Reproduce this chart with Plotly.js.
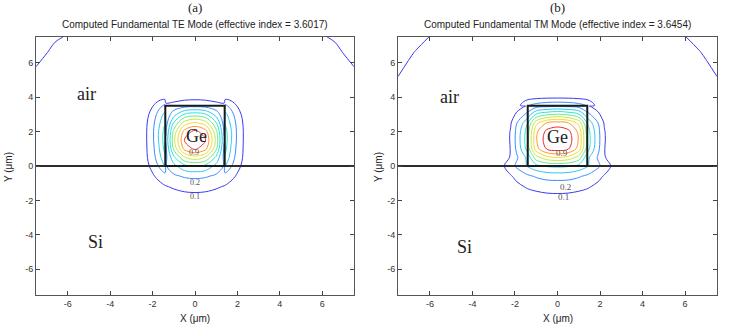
<!DOCTYPE html>
<html lang="en">
<head>
  <meta charset="UTF-8">
  <title>Computed Fundamental TE / TM Modes</title>
  <script src="https://cdn.plot.ly/plotly-3.0.1.min.js"></script>
  <style>
    body { margin: 0; background: #ffffff; }
    #chart { width: 747px; height: 334px; }
  </style>
</head>
<body>
  <div id="chart"></div>
  <script>
    // axis ticks (um)
    const tickVals = [-6, -4, -2, 0, 2, 4, 6];
    const tickLabels = ['-6', '-4', '-2', '0', '2', '4', '6'];
    const axisRange = [-7.5, 7.5];

    // Ge core: left edge, right edge, top (um); Si interface at y = 0
    const coreEdges = [-1.4, 1.4];
    const coreTop = 3.5;
    const interfaceY = 0;

    // TE mode field samples (normalised |E|)
    const teX = [-7.5, -6.6, -5.5, -2.4, -2, -1.7, -1.42, -1.38, -1, -0.5, 0, 0.5, 1, 1.38, 1.42, 1.7, 2, 2.4, 5.5, 6.6, 7.5];
    const teY = [-7.5, -3, -2, -1.2, -0.6, 0, 0.5, 1, 1.5, 2, 2.5, 3, 3.5, 4, 5, 6.6, 7.5];
    const teZ = [
      [0, 0, 0, 0, 0, 0, 0, 0, 0, 0, 0, 0, 0, 0, 0, 0, 0, 0, 0, 0, 0],
      [0, 0, 0, 0.005, 0.01, 0.012, 0.015, 0.015, 0.018, 0.02, 0.02, 0.02, 0.018, 0.015, 0.015, 0.012, 0.01, 0.005, 0, 0, 0],
      [0, 0, 0, 0.015, 0.025, 0.035, 0.045, 0.045, 0.05, 0.058, 0.06, 0.058, 0.05, 0.045, 0.045, 0.035, 0.025, 0.015, 0, 0, 0],
      [0, 0, 0, 0.03, 0.055, 0.075, 0.093, 0.095, 0.11, 0.125, 0.13, 0.125, 0.11, 0.095, 0.093, 0.075, 0.055, 0.03, 0, 0, 0],
      [0, 0, 0, 0.05, 0.09, 0.12, 0.15, 0.15, 0.18, 0.21, 0.22, 0.21, 0.18, 0.15, 0.15, 0.12, 0.09, 0.05, 0, 0, 0],
      [0, 0, 0, 0.07, 0.12, 0.21, 0.3, 0.19, 0.27, 0.37, 0.4, 0.37, 0.27, 0.19, 0.3, 0.21, 0.12, 0.07, 0, 0, 0],
      [0, 0, 0, 0.065, 0.155, 0.26, 0.38, 0.17, 0.38, 0.59, 0.66, 0.59, 0.38, 0.17, 0.38, 0.26, 0.155, 0.065, 0, 0, 0],
      [0, 0, 0, 0.065, 0.17, 0.29, 0.43, 0.18, 0.52, 0.83, 0.92, 0.83, 0.52, 0.18, 0.43, 0.29, 0.17, 0.065, 0, 0, 0],
      [0, 0, 0, 0.065, 0.18, 0.31, 0.45, 0.21, 0.57, 0.905, 1, 0.905, 0.57, 0.21, 0.45, 0.31, 0.18, 0.065, 0, 0, 0],
      [0, 0, 0, 0.065, 0.18, 0.31, 0.44, 0.19, 0.53, 0.84, 0.93, 0.84, 0.53, 0.19, 0.44, 0.31, 0.18, 0.065, 0, 0, 0],
      [0, 0, 0, 0.06, 0.17, 0.28, 0.39, 0.15, 0.41, 0.65, 0.72, 0.65, 0.41, 0.15, 0.39, 0.28, 0.17, 0.06, 0, 0, 0],
      [0.01, 0, 0, 0.05, 0.14, 0.24, 0.33, 0.12, 0.26, 0.41, 0.45, 0.41, 0.26, 0.12, 0.33, 0.24, 0.14, 0.05, 0, 0, 0.01],
      [0.02, 0.01, 0, 0.04, 0.095, 0.17, 0.22, 0.12, 0.13, 0.16, 0.17, 0.16, 0.13, 0.12, 0.22, 0.17, 0.095, 0.04, 0, 0.01, 0.02],
      [0.04, 0.02, 0.005, 0.012, 0.03, 0.05, 0.057, 0.057, 0.062, 0.068, 0.07, 0.068, 0.062, 0.057, 0.057, 0.05, 0.03, 0.012, 0.005, 0.02, 0.04],
      [0.072, 0.04, 0.01, 0.005, 0.01, 0.012, 0.015, 0.015, 0.018, 0.02, 0.02, 0.02, 0.018, 0.015, 0.015, 0.012, 0.01, 0.005, 0.01, 0.04, 0.072],
      [0.13, 0.08, 0.03, 0.01, 0.01, 0.01, 0.01, 0.01, 0.01, 0.01, 0.01, 0.01, 0.01, 0.01, 0.01, 0.01, 0.01, 0.01, 0.03, 0.08, 0.13],
      [0.18, 0.11, 0.08, 0.02, 0.02, 0.02, 0.02, 0.02, 0.02, 0.02, 0.02, 0.02, 0.02, 0.02, 0.02, 0.02, 0.02, 0.02, 0.08, 0.11, 0.18]
    ];

    // TM mode field samples
    const tmX = [-7.5, -6.6, -5.5, -2.6, -2.2, -1.9, -1.6, -1.4, -1, -0.5, 0, 0.5, 1, 1.4, 1.6, 1.9, 2.2, 2.6, 5.5, 6.6, 7.5];
    const tmY = [-7.5, -3, -2, -1.2, -0.6, 0, 0.5, 1, 1.5, 2, 2.5, 3, 3.48, 3.52, 4, 5, 6.6, 7.5];
    const tmZ = [
      [0, 0, 0, 0, 0, 0, 0, 0, 0, 0, 0, 0, 0, 0, 0, 0, 0, 0, 0, 0, 0],
      [0, 0, 0, 0.005, 0.01, 0.015, 0.02, 0.02, 0.022, 0.025, 0.025, 0.025, 0.022, 0.02, 0.02, 0.015, 0.01, 0.005, 0, 0, 0],
      [0, 0, 0, 0.01, 0.02, 0.03, 0.04, 0.045, 0.05, 0.058, 0.06, 0.058, 0.05, 0.045, 0.04, 0.03, 0.02, 0.01, 0, 0, 0],
      [0, 0, 0, 0.02, 0.05, 0.075, 0.098, 0.11, 0.125, 0.137, 0.14, 0.137, 0.125, 0.11, 0.098, 0.075, 0.05, 0.02, 0, 0, 0],
      [0, 0, 0, 0.04, 0.09, 0.13, 0.16, 0.18, 0.21, 0.235, 0.24, 0.235, 0.21, 0.18, 0.16, 0.13, 0.09, 0.04, 0, 0, 0],
      [0, 0, 0, 0.08, 0.16, 0.22, 0.27, 0.31, 0.37, 0.41, 0.42, 0.41, 0.37, 0.31, 0.27, 0.22, 0.16, 0.08, 0, 0, 0],
      [0, 0, 0, 0.04, 0.11, 0.19, 0.27, 0.33, 0.56, 0.67, 0.7, 0.67, 0.56, 0.33, 0.27, 0.19, 0.11, 0.04, 0, 0, 0],
      [0, 0, 0, 0.028, 0.105, 0.228, 0.35, 0.45, 0.76, 0.91, 0.95, 0.91, 0.76, 0.45, 0.35, 0.228, 0.105, 0.028, 0, 0, 0],
      [0, 0, 0, 0.03, 0.11, 0.24, 0.37, 0.47, 0.79, 0.96, 1, 0.96, 0.79, 0.47, 0.37, 0.24, 0.11, 0.03, 0, 0, 0],
      [0, 0, 0, 0.029, 0.107, 0.233, 0.36, 0.456, 0.776, 0.93, 0.97, 0.93, 0.776, 0.456, 0.36, 0.233, 0.107, 0.029, 0, 0, 0],
      [0, 0, 0, 0.025, 0.092, 0.202, 0.31, 0.395, 0.672, 0.806, 0.84, 0.806, 0.672, 0.395, 0.31, 0.202, 0.092, 0.025, 0, 0, 0],
      [0.01, 0, 0, 0.015, 0.055, 0.12, 0.185, 0.235, 0.41, 0.48, 0.51, 0.48, 0.41, 0.235, 0.185, 0.12, 0.055, 0.015, 0, 0, 0.01],
      [0.02, 0.01, 0, 0.008, 0.03, 0.06, 0.09, 0.11, 0.16, 0.18, 0.19, 0.18, 0.16, 0.11, 0.09, 0.06, 0.03, 0.008, 0, 0.01, 0.02],
      [0.02, 0.01, 0, 0.01, 0.03, 0.06, 0.14, 0.19, 0.24, 0.27, 0.28, 0.27, 0.24, 0.19, 0.14, 0.06, 0.03, 0.01, 0, 0.01, 0.02],
      [0.04, 0.02, 0.005, 0.005, 0.015, 0.03, 0.05, 0.06, 0.07, 0.078, 0.08, 0.078, 0.07, 0.06, 0.05, 0.03, 0.015, 0.005, 0.005, 0.02, 0.04],
      [0.0914, 0.05, 0.02, 0.005, 0.008, 0.01, 0.015, 0.018, 0.02, 0.02, 0.02, 0.02, 0.02, 0.018, 0.015, 0.01, 0.008, 0.005, 0.02, 0.05, 0.0914],
      [0.16, 0.088, 0.04, 0.01, 0.01, 0.01, 0.01, 0.01, 0.01, 0.01, 0.01, 0.01, 0.01, 0.01, 0.01, 0.01, 0.01, 0.01, 0.04, 0.088, 0.16],
      [0.19, 0.14, 0.06, 0.02, 0.02, 0.02, 0.02, 0.02, 0.02, 0.02, 0.02, 0.02, 0.02, 0.02, 0.02, 0.02, 0.02, 0.02, 0.06, 0.14, 0.19]
    ];

    const panelTags = ['(a)', '(b)'];
    const panelTitles = [
      'Computed Fundamental TE Mode (effective index = 3.6017)',
      'Computed Fundamental TM Mode (effective index = 3.6454)'
    ];
    const regionNames = ['air', 'Si', 'Ge'];
    const teRegionX = [-5.1, -4.7, 0.05];
    const teRegionY = [4.2, -4.4, 1.75];
    const tmRegionX = [-5.1, -4.35, 0.0];
    const tmRegionY = [4.0, -4.7, 1.7];
    const contourLabels = ['0.9', '0.2', '0.1'];
    const teLabelX = [-0.03, 0, 0];
    const teLabelY = [0.78, -0.93, -1.78];
    const tmLabelX = [0.19, 0.38, 0.27];
    const tmLabelY = [0.78, -1.2, -1.82];

    // jet-like scale for the 0.1 ... 0.9 level lines
    const jetLines = [
      [0, '#3a3af0'], [0.125, '#3a8cff'], [0.25, '#2ec8f5'], [0.375, '#2ee6d6'],
      [0.5, '#6ee888'], [0.625, '#c2ea46'], [0.75, '#f5dc2e'], [0.875, '#ff962e'], [1, '#f22a2a']
    ];

    function contourTrace(x, y, z, xa, ya) {
      return {
        type: 'contour', x: x, y: y, z: z, xaxis: xa, yaxis: ya,
        autocontour: false,
        contours: { coloring: 'lines', start: 0.1, end: 0.9, size: 0.1, showlabels: false },
        line: { width: 1, smoothing: 1 },
        colorscale: jetLines, zmin: 0.1, zmax: 0.9, showscale: false, hoverinfo: 'skip'
      };
    }

    function outlineTraces(xa, ya) {
      return [
        {
          type: 'scatter', mode: 'lines', xaxis: xa, yaxis: ya, hoverinfo: 'skip',
          x: axisRange, y: [interfaceY, interfaceY],
          line: { color: '#2b2b2b', width: 2 }
        },
        {
          type: 'scatter', mode: 'lines', xaxis: xa, yaxis: ya, hoverinfo: 'skip',
          x: [coreEdges[0], coreEdges[0], coreEdges[1], coreEdges[1], coreEdges[0]],
          y: [interfaceY, coreTop, coreTop, interfaceY, interfaceY],
          line: { color: '#1a1a1a', width: 2 }
        }
      ];
    }

    const data = [
      contourTrace(teX, teY, teZ, 'x', 'y'),
      contourTrace(tmX, tmY, tmZ, 'x2', 'y2')
    ].concat(outlineTraces('x', 'y'), outlineTraces('x2', 'y2'));

    const sans = 'Liberation Sans, Arial, sans-serif';
    const serif = 'Liberation Serif, Times New Roman, serif';

    function axis(domain, anchor) {
      return {
        domain: domain, anchor: anchor, range: axisRange,
        tickmode: 'array', tickvals: tickVals, ticktext: tickLabels,
        ticks: 'inside', ticklen: 4, tickcolor: '#444',
        showline: true, linecolor: '#555', linewidth: 1, mirror: 'ticks',
        showgrid: false, zeroline: false, fixedrange: true,
        tickfont: { family: sans, size: 9, color: '#333' }
      };
    }

    const xDomains = [[36 / 747, 354 / 747], [398 / 747, 717 / 747]];
    const yDomain = [39 / 334, 297 / 334];
    const centers = xDomains.map(d => (d[0] + d[1]) / 2);

    const annotations = [];
    function note(opts) {
      annotations.push(Object.assign({ showarrow: false, xanchor: 'center', yanchor: 'middle' }, opts));
    }
    panelTags.forEach((t, i) => {
      note({ xref: 'paper', yref: 'paper', x: centers[i], y: 1 - 8 / 334, text: t,
        font: { family: serif, size: 13, color: '#222' } });
      note({ xref: 'paper', yref: 'paper', x: centers[i], y: 1 - 25 / 334, text: panelTitles[i],
        font: { family: sans, size: 10, color: '#222' } });
      note({ xref: 'paper', yref: 'paper', x: centers[i], y: 1 - 318 / 334, text: 'X (μm)',
        font: { family: sans, size: 10, color: '#222' } });
      note({ xref: 'paper', yref: 'paper', x: [8, 378][i] / 747, y: 1 - 167 / 334, text: 'Y (μm)',
        textangle: -90, font: { family: sans, size: 10, color: '#222' } });
    });

    function placeText(names, xs, ys, xa, ya, font) {
      names.forEach((n, i) => note({ xref: xa, yref: ya, x: xs[i], y: ys[i], text: n, font: font }));
    }
    placeText(regionNames, teRegionX, teRegionY, 'x', 'y', { family: serif, size: 18, color: '#222' });
    placeText(regionNames, tmRegionX, tmRegionY, 'x2', 'y2', { family: serif, size: 18, color: '#222' });
    placeText(contourLabels, teLabelX, teLabelY, 'x', 'y', { family: serif, size: 8, color: '#555' });
    placeText(contourLabels, tmLabelX, tmLabelY, 'x2', 'y2', { family: serif, size: 9, color: '#555' });

    const layout = {
      width: 747, height: 334,
      margin: { l: 0, r: 0, t: 0, b: 0 },
      paper_bgcolor: '#ffffff', plot_bgcolor: '#ffffff',
      showlegend: false,
      xaxis: axis(xDomains[0], 'y'),
      yaxis: axis(yDomain, 'x'),
      xaxis2: axis(xDomains[1], 'y2'),
      yaxis2: axis(yDomain, 'x2'),
      annotations: annotations
    };

    Plotly.newPlot('chart', data, layout, { staticPlot: true, displayModeBar: false });
  </script>
</body>
</html>
